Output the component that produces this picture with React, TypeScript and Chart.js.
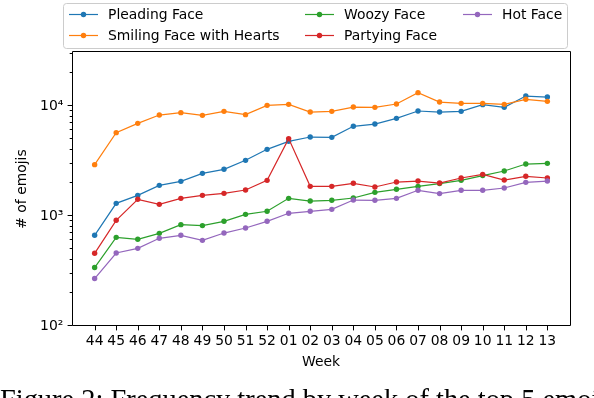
import React, { useEffect, useRef } from "react";
import { Chart, registerables } from "chart.js";

Chart.register(...registerables);

const weeks = ["44", "45", "46", "47", "48", "49", "50", "51", "52", "01", "02", "03", "04", "05", "06", "07", "08", "09", "10", "11", "12", "13"];
const pleading = [668, 1304, 1542, 1901, 2066, 2444, 2659, 3209, 4040, 4776, 5226, 5190, 6540, 6860, 7730, 9010, 8820, 8950, 10300, 9730, 12330, 12070];
const smiling = [2930, 5730, 6960, 8280, 8710, 8230, 8950, 8350, 10150, 10360, 8820, 8950, 9790, 9730, 10430, 13240, 10870, 10580, 10580, 10360, 11510, 11030];
const woozy = [340, 640, 614, 696, 835, 818, 895, 1036, 1104, 1448, 1368, 1390, 1458, 1642, 1750, 1862, 1971, 2111, 2330, 2565, 2969, 3013];
const partying = [458, 914, 1419, 1277, 1448, 1542, 1608, 1723, 2111, 5056, 1862, 1862, 1983, 1836, 2037, 2080, 1995, 2216, 2393, 2125, 2296, 2216];
const hot = [270, 461, 508, 627, 668, 601, 700, 778, 895, 1059, 1104, 1150, 1397, 1390, 1448, 1713, 1599, 1713, 1713, 1797, 2024, 2080];

const seriesNames = ["Pleading Face", "Smiling Face with Hearts", "Woozy Face", "Partying Face", "Hot Face"];
const seriesValues = [pleading, smiling, woozy, partying, hot];
const seriesColors = ["#1f77b4", "#ff7f0e", "#2ca02c", "#d62728", "#9467bd"];

const yMajorTicks = [100, 1000, 10000];
const yMajorLabels = ["10²", "10³", "10⁴"];
const yMinorTicks = [200, 300, 400, 500, 600, 700, 800, 900, 2000, 3000, 4000, 5000, 6000, 7000, 8000, 9000, 20000, 30000];

const xLabel = "Week";
const yLabel = "# of emojis";
const caption = "Figure 2: Frequency trend by week of the top 5 emojis";

const FONT = "'DejaVu Sans', sans-serif";
const FS = 13.9;

const framePlugin = {
  id: "frameAndTicks",
  afterDraw(chart: any) {
    const { ctx, chartArea: a, scales } = chart;
    ctx.save();
    ctx.strokeStyle = "#000";
    ctx.lineWidth = 1;
    const L = Math.round(a.left) + 0.5;
    const R = Math.round(a.right) + 0.5;
    const T = Math.round(a.top) - 0.5;
    const B = Math.round(a.bottom) - 0.5;
    ctx.beginPath();
    ctx.moveTo(L, T);
    ctx.lineTo(R, T);
    ctx.lineTo(R, B);
    ctx.lineTo(L, B);
    ctx.closePath();
    ctx.stroke();
    ctx.beginPath();
    const y = scales.y;
    yMajorTicks.forEach((v) => {
      const p = Math.round(y.getPixelForValue(v)) - 0.5;
      ctx.moveTo(L, p);
      ctx.lineTo(L - 4.9, p);
    });
    yMinorTicks.forEach((v) => {
      const p = Math.round(y.getPixelForValue(v)) - 0.5;
      ctx.moveTo(L, p);
      ctx.lineTo(L - 2.8, p);
    });
    const x = scales.x;
    weeks.forEach((_, i) => {
      const p = Math.round(x.getPixelForValue(i)) + 0.5;
      ctx.moveTo(p, B);
      ctx.lineTo(p, B + 4.9);
    });
    ctx.stroke();
    ctx.restore();
  },
};

const legendPlugin = {
  id: "mplLegend",
  afterDraw(chart: any) {
    const { ctx } = chart;
    ctx.save();
    const bx = 63.5, by = 3.5, bw = 504, bh = 45, r = 3;
    ctx.beginPath();
    ctx.moveTo(bx + r, by);
    ctx.lineTo(bx + bw - r, by);
    ctx.arcTo(bx + bw, by, bx + bw, by + r, r);
    ctx.lineTo(bx + bw, by + bh - r);
    ctx.arcTo(bx + bw, by + bh, bx + bw - r, by + bh, r);
    ctx.lineTo(bx + r, by + bh);
    ctx.arcTo(bx, by + bh, bx, by + bh - r, r);
    ctx.lineTo(bx, by + r);
    ctx.arcTo(bx, by, bx + r, by, r);
    ctx.closePath();
    ctx.fillStyle = "rgba(255,255,255,0.8)";
    ctx.fill();
    ctx.strokeStyle = "#cccccc";
    ctx.lineWidth = 1;
    ctx.stroke();
    const cols = [69, 305, 463];
    const rows = [14.5, 35.5];
    ctx.font = `${FS}px ${FONT}`;
    ctx.textBaseline = "middle";
    ctx.textAlign = "left";
    seriesNames.forEach((name, i) => {
      const c = Math.floor(i / 2);
      const rr = i % 2;
      const hx = cols[c];
      const hy = rows[rr];
      ctx.strokeStyle = seriesColors[i];
      ctx.lineWidth = 1.2;
      ctx.beginPath();
      ctx.moveTo(hx, hy);
      ctx.lineTo(hx + 29, hy);
      ctx.stroke();
      ctx.fillStyle = seriesColors[i];
      ctx.beginPath();
      ctx.arc(hx + 14.5, hy, 2.7, 0, Math.PI * 2);
      ctx.fill();
      ctx.fillStyle = "#000";
      ctx.fillText(name, hx + 39, hy + 0.5);
    });
    ctx.restore();
  },
};

export default function App() {
  const ref = useRef<HTMLCanvasElement | null>(null);
  useEffect(() => {
    if (!ref.current) return;
    const chart = new Chart(ref.current, {
      type: "line",
      data: {
        datasets: seriesNames.map((name, i) => ({
          label: name,
          data: seriesValues[i].map((v, j) => ({ x: j, y: v })),
          borderColor: seriesColors[i],
          backgroundColor: seriesColors[i],
          pointBackgroundColor: seriesColors[i],
          pointBorderWidth: 0,
          pointRadius: 2.7,
          borderWidth: 1.2,
          tension: 0,
          fill: false,
          order: seriesNames.length - i,
        })),
      },
      options: {
        animation: false,
        responsive: false,
        devicePixelRatio: 1,
        layout: { padding: { top: 52, right: 24, left: 0, bottom: 0 } },
        plugins: { legend: { display: false }, tooltip: { enabled: false } },
        scales: {
          x: {
            type: "linear",
            min: -1.05,
            max: 22.05,
            afterBuildTicks: (s: any) => {
              s.ticks = weeks.map((_, i) => ({ value: i }));
            },
            afterFit: (s: any) => {
              s.height = 72;
            },
            ticks: {
              autoSkip: false,
              maxRotation: 0,
              padding: 7,
              color: "#000",
              font: { family: FONT, size: FS },
              callback: (v: any) => weeks[v] ?? "",
            },
            grid: { display: false, drawTicks: false },
            border: { display: false },
            title: {
              display: true,
              text: xLabel,
              color: "#000",
              font: { family: FONT, size: FS },
              padding: { top: 0, bottom: 27.7 },
            },
          },
          y: {
            type: "logarithmic",
            min: 100,
            max: 31000,
            afterBuildTicks: (s: any) => {
              s.ticks = [...yMajorTicks, ...yMinorTicks].sort((a, b) => a - b).map((v) => ({ value: v }));
            },
            afterFit: (s: any) => {
              s.width = 72;
            },
            ticks: {
              autoSkip: false,
              padding: 8.7,
              color: "#000",
              font: { family: FONT, size: FS },
              callback: (v: any) => {
                const k = yMajorTicks.indexOf(Number(v));
                return k >= 0 ? yMajorLabels[k] : "";
              },
            },
            grid: { display: false, drawTicks: false },
            border: { display: false },
            title: {
              display: true,
              text: yLabel,
              color: "#000",
              font: { family: FONT, size: FS },
              padding: { top: 13.7, bottom: 0 },
            },
          },
        },
      },
      plugins: [framePlugin, legendPlugin],
    });
    return () => chart.destroy();
  }, []);

  return (
    <div style={{ position: "fixed", left: 0, top: 0, width: 594, height: 398, overflow: "hidden", background: "#fff" }}>
      <canvas ref={ref} width={594} height={398} style={{ display: "block", width: 594, height: 398 }} />
      <div
        style={{
          position: "absolute",
          left: 0,
          top: 386,
          fontFamily: "'Liberation Serif', 'Times New Roman', serif",
          fontSize: 28.4,
          lineHeight: 1,
          whiteSpace: "nowrap",
          color: "#000",
        }}
      >
        {caption}
      </div>
    </div>
  );
}
